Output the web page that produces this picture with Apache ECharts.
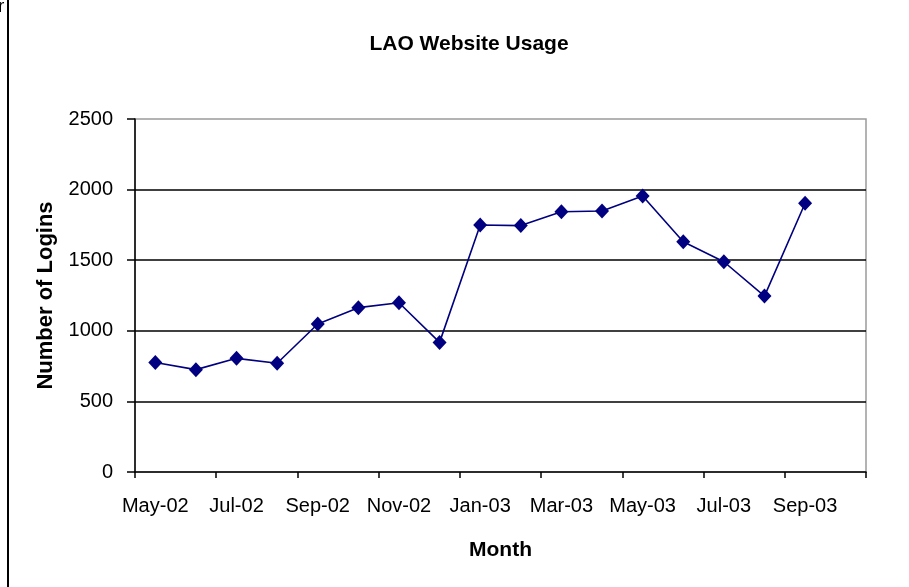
<!DOCTYPE html>
<html>
<head>
<meta charset="utf-8">
<style>
  html, body { margin: 0; padding: 0; background: #fff; }
  #chart { width: 909px; height: 587px; }
</style>
<script src="https://cdn.jsdelivr.net/npm/echarts@6/dist/echarts.min.js"></script>
</head>
<body>
<div id="chart"></div>
<script>
// Monthly website logins, May 2002 to Oct 2003 (Oct-03 not yet recorded)
const months = ['May-02', 'Jun-02', 'Jul-02', 'Aug-02', 'Sep-02', 'Oct-02', 'Nov-02', 'Dec-02',
                'Jan-03', 'Feb-03', 'Mar-03', 'Apr-03', 'May-03', 'Jun-03', 'Jul-03', 'Aug-03',
                'Sep-03', 'Oct-03'];
const logins = [775, 725, 805, 770, 1048, 1164, 1199, 918,
                1749, 1745, 1843, 1848, 1955, 1631, 1489, 1246,
                1903];
const yTicks = { min: 0, max: 2500, step: 500 };

const FONT = 'Liberation Sans, Arial, sans-serif';

const chart = echarts.init(document.getElementById('chart'), null, { renderer: 'canvas' });

chart.setOption({
  animation: false,
  backgroundColor: '#ffffff',
  title: {
    text: 'LAO Website Usage',
    left: 464,
    top: 29,
    textAlign: 'center',
    textStyle: { fontFamily: FONT, fontSize: 21, fontWeight: 'bold', color: '#000' }
  },
  grid: {
    left: 135, right: 43, top: 119, bottom: 115,
    show: true,
    borderColor: '#9a9a9a',
    borderWidth: 1.5,
    backgroundColor: '#ffffff'
  },
  xAxis: {
    type: 'category',
    data: months,
    boundaryGap: true,
    name: 'Month',
    nameLocation: 'middle',
    nameGap: 68,
    nameTextStyle: { fontFamily: FONT, fontSize: 21, fontWeight: 'bold', color: '#000' },
    axisLine: { lineStyle: { color: '#000', width: 1.5 } },
    axisTick: { show: true, interval: 1, length: 6, lineStyle: { color: '#000', width: 1.5 } },
    axisLabel: { interval: 1, margin: 24, fontFamily: FONT, fontSize: 20, color: '#000' },
    splitLine: { show: false }
  },
  yAxis: {
    type: 'value',
    min: yTicks.min,
    max: yTicks.max,
    interval: yTicks.step,
    name: 'Number of Logins',
    nameLocation: 'middle',
    nameGap: 78,
    nameRotate: 90,
    nameTextStyle: { fontFamily: FONT, fontSize: 22, fontWeight: 'bold', color: '#000' },
    axisLine: { show: true, lineStyle: { color: '#000', width: 1.5 } },
    axisTick: { show: true, length: 8, lineStyle: { color: '#000', width: 1.5 } },
    axisLabel: {
      margin: 22, fontFamily: FONT, fontSize: 20, color: '#000',
      formatter: v => String(v)
    },
    splitLine: { show: true, showMinLine: false, showMaxLine: false, lineStyle: { color: '#000', width: 1.6 } }
  },
  series: [{
    type: 'line',
    data: logins,
    symbol: 'diamond',
    symbolSize: [14, 15],
    lineStyle: { color: '#000080', width: 1.6 },
    itemStyle: { color: '#000080' },
    z: 5
  }],
  graphic: [
    {
      type: 'line',
      shape: { x1: 8, y1: 0, x2: 8, y2: 587 },
      style: { stroke: '#000', lineWidth: 2 }
    },
    {
      type: 'text',
      x: -2,
      y: -3,
      style: { text: 'r', font: '19px "Liberation Sans", Arial, sans-serif', fill: '#000' }
    }
  ]
});
</script>
</body>
</html>
